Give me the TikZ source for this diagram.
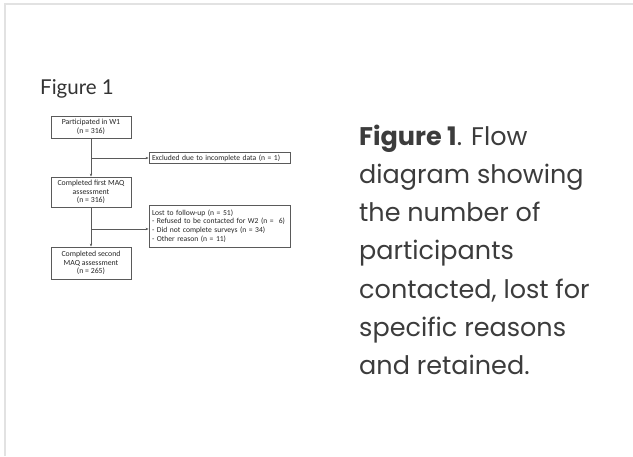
\documentclass[tikz,border=0pt]{standalone}
\usepackage{fontspec}
\setmainfont{Lato}
\newfontfamily\boxfont{Carlito}
\newfontfamily\capfont{Poppins}
\usetikzlibrary{arrows.meta,calc}

\definecolor{framegray}{HTML}{E2E2E2}
\definecolor{inkgray}{HTML}{333333}
\definecolor{captext}{HTML}{3C3C3C}
\definecolor{linegray}{HTML}{5A5A5A}

\tikzset{
  flowbox/.style={draw=linegray, line width=0.8pt, fill=white, inner sep=0pt,
    align=center, text=black!85,
    font=\boxfont\fontsize{7.8}{8.6}\selectfont},
  sidebox/.style={flowbox, align=left, text width=135pt, inner xsep=3pt,
    font=\boxfont\fontsize{7.6}{8.6}\selectfont},
  link/.style={draw=linegray, line width=0.8pt,
    -{Stealth[length=3pt,width=2.4pt]}},
  capline/.style={anchor=base west, inner sep=0pt, text=captext,
    font=\capfont\fontsize{25.5}{30}\selectfont},
}

\begin{document}
\begin{tikzpicture}[x=1pt,y=-1pt]
  \useasboundingbox (0,0) rectangle (633,456);
  \fill[white] (0,0) rectangle (633,456);
  % card edge
  \draw[framegray, line width=1.6pt] (5,456) -- (5,4) -- (633,4);

  % heading
  \node[anchor=base west, inner sep=0pt, text=inkgray,
        font=\fontsize{20.5}{24}\selectfont]
    (title) at (40,94) {Figure 1};

  % flow chart
  \node[flowbox, minimum width=80pt, minimum height=22pt] (p1) at (91,127)
    {Participated in W1\\(n = 316)};
  \node[flowbox, minimum width=80pt, minimum height=30pt] (p2) at (91,192)
    {Completed first MAQ\\assessment\\(n = 316)};
  \node[flowbox, minimum width=80pt, minimum height=32pt] (p3) at (91,263)
    {Completed second\\MAQ assessment\\(n = 265)};
  \node[sidebox, minimum height=10.5pt] (excl) at (219.5,158)
    {Excluded due to incomplete data (n = 1)};
  \node[sidebox, minimum height=42pt] (lost) at (219.5,226)
    {Lost to follow-up (n = 51)\\
     - Refused to be contacted for W2 (n =\hspace{2.5pt}\ 6)\\
     - Did not complete surveys (n = 34)\\
     - Other reason (n = 11)};

  \coordinate (j1) at (p1.south |- excl.west);
  \coordinate (j2) at ($(p2.south)!0.55!(p3.north)$);
  \draw[link] (p1.south) -- (p2.north);
  \draw[link] (p2.south) -- (p3.north);
  \draw[link] (j1) -- (excl.west);
  \draw[link] (j2) -- (lost.west |- j2);

  % caption
  \node[capline] (c1) at (359,145) {\textbf{Figure 1}. Flow};
  \node[capline] (c2) at (359,183.3) {diagram showing};
  \node[capline] (c3) at (359,221.6) {the number of};
  \node[capline] (c4) at (359,259.9) {participants};
  \node[capline] (c5) at (359,298.2) {contacted, lost for};
  \node[capline] (c6) at (359,336.5) {specific reasons};
  \node[capline] (c7) at (359,374.8) {and retained.};
\end{tikzpicture}
\end{document}
